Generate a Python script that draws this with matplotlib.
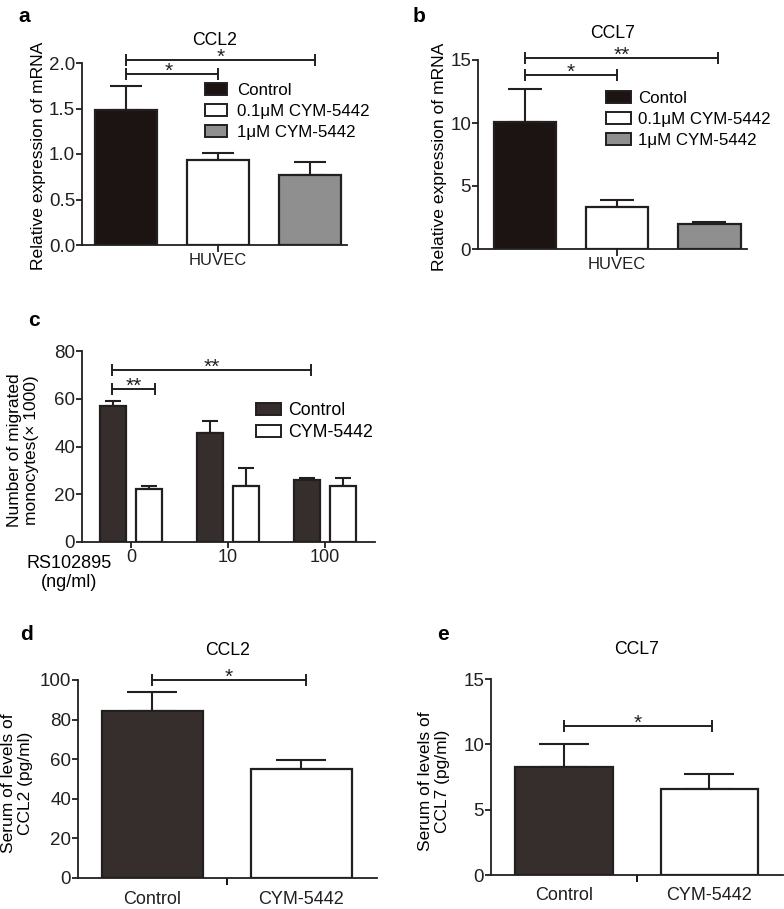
import matplotlib
matplotlib.use("Agg")
import matplotlib.pyplot as plt
from matplotlib.patches import Patch
import numpy as np

plt.rcParams['font.family'] = ['Liberation Sans', 'DejaVu Sans']

W, H = 784, 909
fig = plt.figure(figsize=(W / 100, H / 100), dpi=100)

DARK_A = '#1c1413'
DARK = '#352e2c'
GRAY = '#8f8f8f'
EDGE = '#231f20'

# ---------------- data ----------------
a_labels = ['Control', '0.1μM CYM-5442', '1μM CYM-5442']
a_values = [1.48, 0.93, 0.77]
a_errors = [0.27, 0.08, 0.14]

b_labels = ['Contol', '0.1μM CYM-5442', '1μM CYM-5442']
b_values = [10.1, 3.3, 1.95]
b_errors = [2.6, 0.55, 0.2]

c_groups = ['0', '10', '100']
c_series = ['Control', 'CYM-5442']
c_control = [57, 45.5, 26]
c_control_err = [2, 5, 1]
c_cym = [22, 23.5, 23.5]
c_cym_err = [1.5, 7.5, 3.5]

d_categories = ['Control', 'CYM-5442']
d_values = [84.5, 55]
d_errors = [9.5, 4.5]

e_categories = ['Control', 'CYM-5442']
e_values = [8.3, 6.6]
e_errors = [1.7, 1.1]

TICK_FS = 13.5


def px_axes(l, t, r, b):
    return fig.add_axes([l / W, 1 - b / H, (r - l) / W, (b - t) / H])


def style(ax, ytick_fs):
    for s in ['top', 'right']:
        ax.spines[s].set_visible(False)
    for s in ['left', 'bottom']:
        ax.spines[s].set_linewidth(1.3)
        ax.spines[s].set_color('#231f20')
    ax.tick_params(axis='y', length=4, width=1.3, labelsize=ytick_fs,
                   pad=1, colors='#231f20')
    ax.tick_params(axis='x', width=1.3, colors='#231f20')


def bracket(ax, x0, x1, y, label, fs=15, dx=0):
    ax.plot([x0, x1], [y, y], color='#231f20', lw=1.4, clip_on=False,
            marker='|', markersize=8, markeredgewidth=1.4)
    ax.annotate(label, xy=((x0 + x1) / 2 + dx, y), xytext=(0, -5),
                textcoords='offset points', ha='center', va='bottom',
                fontsize=fs, annotation_clip=False, color='#231f20')


def bars(ax, x, vals, errs, colors, width, capsize):
    ax.errorbar(x, vals, yerr=[np.zeros(len(vals)), errs], fmt='none',
                ecolor='#231f20', elinewidth=1.5, capsize=capsize,
                capthick=1.5, zorder=1)
    return ax.bar(x, vals, width=width, color=colors, edgecolor=EDGE,
                  linewidth=1.6, zorder=2)


# ---------------- panel a ----------------
ax = px_axes(82, 63, 347, 245)
style(ax, TICK_FS)
xa = np.arange(3)
bars(ax, xa, a_values, a_errors, [DARK_A, 'white', GRAY], 0.67, 11.5)
ax.set_ylim(0, 2.0)
ax.set_yticks([0, 0.5, 1.0, 1.5, 2.0])
ax.set_yticklabels(['0.0', '0.5', '1.0', '1.5', '2.0'])
ax.set_xlim(-0.48, 2.40)
ax.set_xticks([1])
ax.set_xticklabels(['HUVEC'], fontsize=12)
ax.tick_params(axis='x', length=5, pad=1)
ax.set_title('CCL2', fontsize=12.7, pad=13)
ax.set_ylabel('Relative expression of mRNA', fontsize=12.6, va='center')
ax.yaxis.set_label_coords((38 - 82) / 265, 0.49)
bracket(ax, 0, 2.05, 2.03, '*')
bracket(ax, 0, 1.0, 1.88, '*', dx=-0.04)
h = [Patch(facecolor=c, edgecolor=EDGE, linewidth=1.4) for c in [DARK_A, 'white', GRAY]]
fig.legend(h, a_labels, loc='upper left', bbox_to_anchor=(205 / W, 1 - 83 / H),
           frameon=False, fontsize=12.2, handlelength=1.3, handleheight=0.7,
           handletextpad=0.6, labelspacing=0.36, borderpad=0, borderaxespad=0)
fig.text(18 / W, 1 - 16 / H, 'a', fontsize=15, fontweight='bold', va='center')

# ---------------- panel b ----------------
ax = px_axes(478, 60, 747, 249)
style(ax, TICK_FS)
bars(ax, xa, b_values, b_errors, [DARK_A, 'white', GRAY], 0.68, 12)
ax.set_ylim(0, 15)
ax.set_yticks([0, 5, 10, 15])
ax.set_xlim(-0.51, 2.41)
ax.set_xticks([1])
ax.set_xticklabels(['HUVEC'], fontsize=12)
ax.tick_params(axis='x', length=5, pad=1)
ax.set_title('CCL7', fontsize=12.7, pad=16)
ax.set_ylabel('Relative expression of mRNA', fontsize=12.6, va='center')
ax.yaxis.set_label_coords((439 - 478) / 269, 0.49)
bracket(ax, 0, 2.09, 15.15, '**')
bracket(ax, 0, 1.0, 13.8, '*')
fig.legend(h, b_labels, loc='upper left', bbox_to_anchor=(606 / W, 1 - 91 / H),
           frameon=False, fontsize=12.2, handlelength=1.5, handleheight=0.7,
           handletextpad=0.4, labelspacing=0.36, borderpad=0, borderaxespad=0)
fig.text(413 / W, 1 - 16 / H, 'b', fontsize=15, fontweight='bold', va='center')

# ---------------- panel c ----------------
ax = px_axes(82, 351, 375, 542)
style(ax, TICK_FS)
xc = np.arange(3)
off = 0.186
bars(ax, xc - off, c_control, c_control_err, DARK, 0.27, 6)
bars(ax, xc + off, c_cym, c_cym_err, 'white', 0.27, 6)
ax.set_ylim(0, 80)
ax.set_yticks([0, 20, 40, 60, 80])
ax.set_xlim(-0.505, 2.515)
ax.set_xticks(xc)
ax.set_xticklabels(c_groups, fontsize=13)
ax.tick_params(axis='x', length=4, pad=1)
ax.set_ylabel('Number of migrated\nmonocytes(× 1000)', fontsize=12.5, va='center',
              linespacing=1.1)
ax.yaxis.set_label_coords((23 - 82) / 293, 0.48)
bracket(ax, -0.196, 1.856, 72, '**')
bracket(ax, -0.196, 0.247, 64, '**')
hc = [Patch(facecolor=c, edgecolor=EDGE, linewidth=1.4) for c in [DARK, 'white']]
fig.legend(hc, c_series, loc='upper left', bbox_to_anchor=(256 / W, 1 - 402 / H),
           frameon=False, fontsize=12.8, handlelength=1.4, handleheight=0.7,
           handletextpad=0.4, labelspacing=0.3, borderpad=0, borderaxespad=0)
fig.text(69 / W, 1 - 573 / H, 'RS102895\n(ng/ml)', fontsize=13, ha='center',
         va='center', ma='center', linespacing=1.2)
fig.text(28 / W, 1 - 320 / H, 'c', fontsize=15, fontweight='bold', va='center')

# ---------------- panel d ----------------
ax = px_axes(78, 680, 377, 878)
style(ax, TICK_FS)
xd = np.arange(2)
bars(ax, xd, d_values, d_errors, [DARK, 'white'], 0.68, 18)
ax.set_ylim(0, 100)
ax.set_yticks([0, 20, 40, 60, 80, 100])
ax.set_xlim(-0.50, 1.51)
ax.set_xticks(xd)
ax.set_xticklabels(d_categories, fontsize=13)
ax.tick_params(axis='x', length=0, pad=9)
ax.set_xticks([0.5], minor=True)
ax.tick_params(axis='x', which='minor', length=5, width=1.3)
ax.set_title('CCL2', fontsize=12.7, pad=18)
ax.set_ylabel('Serum of levels of\nCCL2 (pg/ml)', fontsize=12.5, va='center',
              linespacing=1.1)
ax.yaxis.set_label_coords((17 - 78) / 299, 0.48)
bracket(ax, 0, 1.03, 100, '*')
fig.text(20 / W, 1 - 635 / H, 'd', fontsize=15, fontweight='bold', va='center')

# ---------------- panel e ----------------
ax = px_axes(491, 679, 783, 875)
style(ax, TICK_FS)
bars(ax, xd, e_values, e_errors, [DARK, 'white'], 0.67, 18)
ax.set_ylim(0, 15)
ax.set_yticks([0, 5, 10, 15])
ax.set_xlim(-0.50, 1.505)
ax.set_xticks(xd)
ax.set_xticklabels(e_categories, fontsize=13)
ax.tick_params(axis='x', length=0, pad=9)
ax.set_xticks([0.5], minor=True)
ax.tick_params(axis='x', which='minor', length=5, width=1.3)
ax.set_title('CCL7', fontsize=12.7, pad=18)
ax.set_ylabel('Serum of levels of\nCCL7 (pg/ml)', fontsize=12.5, va='center',
              linespacing=1.1)
ax.yaxis.set_label_coords((434 - 491) / 292, 0.48)
bracket(ax, 0, 1.02, 11.4, '*')
fig.text(437 / W, 1 - 635 / H, 'e', fontsize=15, fontweight='bold', va='center')

fig.savefig('out.png', dpi=100, facecolor='white')
